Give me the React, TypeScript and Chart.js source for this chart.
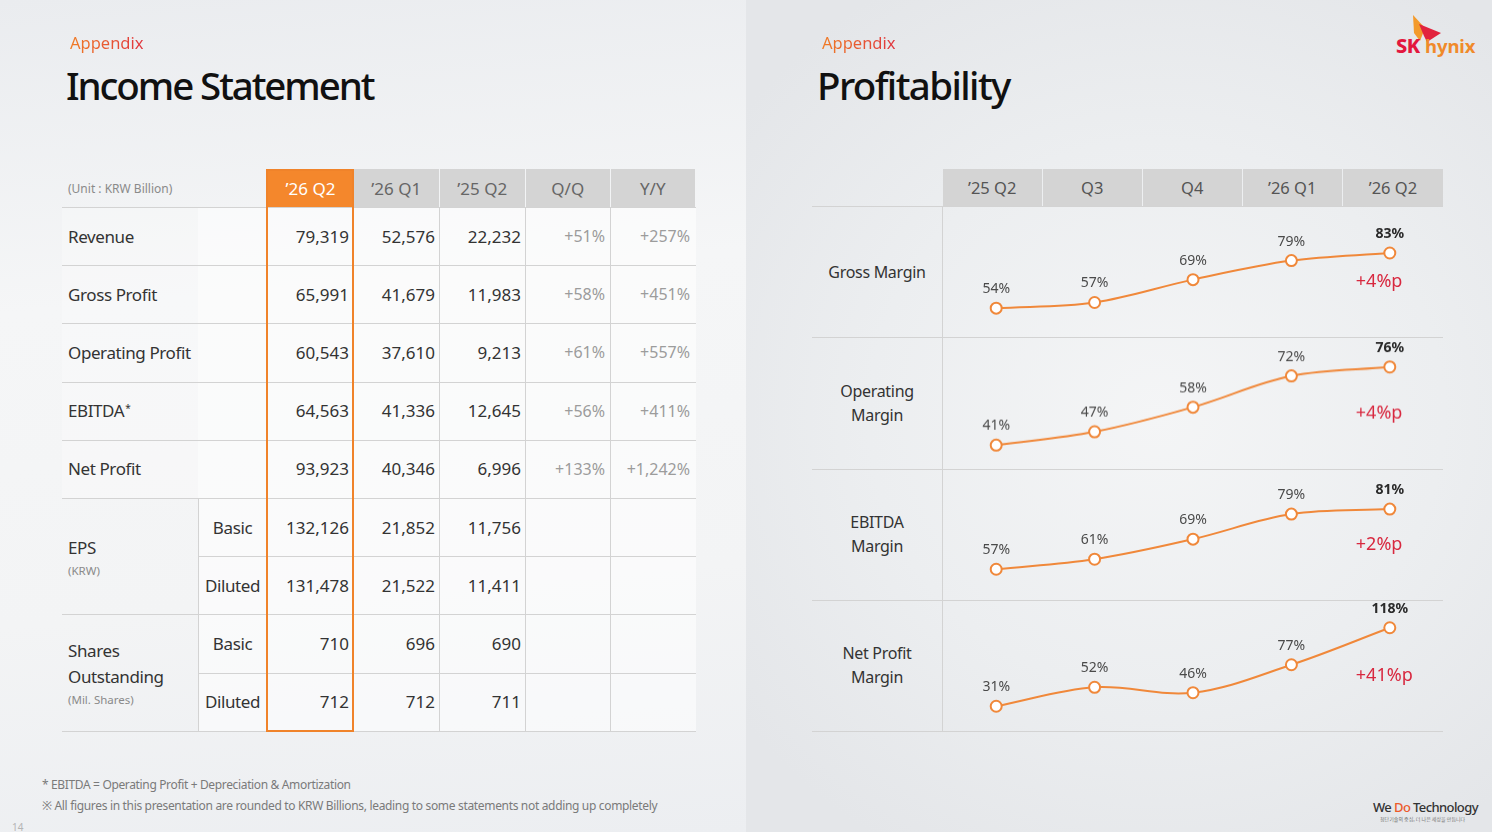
import React, { useEffect, useRef } from 'react';
import { Chart, registerables } from 'chart.js';

Chart.register(...registerables);

// ---- data ----
const tableHeaders = ['\u201926 Q2', '\u201926 Q1', '\u201925 Q2', 'Q/Q', 'Y/Y'];
const incomeItems = ['Revenue', 'Gross Profit', 'Operating Profit', 'EBITDA', 'Net Profit'];
const q2_26 = ['79,319', '65,991', '60,543', '64,563', '93,923'];
const q1_26 = ['52,576', '41,679', '37,610', '41,336', '40,346'];
const q2_25 = ['22,232', '11,983', '9,213', '12,645', '6,996'];
const qoq = ['+51%', '+58%', '+61%', '+56%', '+133%'];
const yoy = ['+257%', '+451%', '+557%', '+411%', '+1,242%'];
const subItems = ['Basic', 'Diluted'];
const epsValues = [
  ['132,126', '21,852', '11,756'],
  ['131,478', '21,522', '11,411'],
];
const shareValues = [
  ['710', '696', '690'],
  ['712', '712', '711'],
];

const quarters = ['\u201925 Q2', 'Q3', 'Q4', '\u201926 Q1', '\u201926 Q2'];
const grossMargin = [54, 57, 69, 79, 83];
const operatingMargin = [41, 47, 58, 72, 76];
const ebitdaMargin = [57, 61, 69, 79, 81];
const netProfitMargin = [31, 52, 46, 77, 118];

const FONT = '"Noto Sans", "Open Sans", sans-serif';
const ORANGE = '#f0883a';
const LINE = '#d3d3d3';

const marginRows = [
  { lines: ['Gross Margin'], values: grossMargin, min: 38.7, max: 107.7 },
  { lines: ['Operating', 'Margin'], values: operatingMargin, min: 30.2, max: 89.4 },
  { lines: ['EBITDA', 'Margin'], values: ebitdaMargin, min: 44.6, max: 97 },
  { lines: ['Net Profit', 'Margin'], values: netProfitMargin, min: 3.2, max: 148.8 },
];

const labelPlugin = {
  id: 'marginLabels',
  afterDatasetsDraw(chart: Chart) {
    const ctx = chart.ctx;
    const meta = chart.getDatasetMeta(0);
    const data = chart.data.datasets[0].data as number[];
    ctx.save();
    ctx.textAlign = 'center';
    ctx.textBaseline = 'middle';
    meta.data.forEach((pt: any, i: number) => {
      const last = i === data.length - 1;
      ctx.font = (last ? 'bold ' : '') + '14px ' + FONT;
      ctx.fillStyle = last ? '#2a2a2a' : '#4a4a4a';
      ctx.fillText(data[i] + '%', pt.x, pt.y - 19);
    });
    const lastPt: any = meta.data[data.length - 1];
    const diff = data[data.length - 1] - data[data.length - 2];
    ctx.font = '18px ' + FONT;
    ctx.fillStyle = '#d8283f';
    ctx.textAlign = 'left';
    ctx.fillText((diff >= 0 ? '+' : '') + diff + '%p', lastPt.x - 34, chart.chartArea.top + 76);
    ctx.restore();
  },
};

const MarginChart: React.FC<{ values: number[]; min: number; max: number }> = ({ values, min, max }) => {
  const canvasRef = useRef<HTMLCanvasElement>(null);

  useEffect(() => {
    if (!canvasRef.current) return;
    const chart = new Chart(canvasRef.current, {
      type: 'line',
      data: {
        labels: quarters,
        datasets: [{
          data: values,
          borderColor: ORANGE,
          borderWidth: 2,
          tension: 0.35,
          pointRadius: 5.5,
          pointBorderWidth: 2,
          pointBackgroundColor: '#ffffff',
          pointBorderColor: ORANGE,
          clip: false as any,
        }],
      },
      options: {
        responsive: true,
        maintainAspectRatio: false,
        animation: false,
        events: [],
        layout: { padding: 0, autoPadding: false },
        scales: {
          x: { type: 'category', offset: true, display: false },
          y: { display: false, min, max },
        },
        plugins: { legend: { display: false }, tooltip: { enabled: false } },
      },
      plugins: [labelPlugin],
    });
    return () => chart.destroy();
  }, [values, min, max]);

  return <canvas ref={canvasRef} />;
};

const abs = (left: number, top: number, width: number, height: number): React.CSSProperties => ({
  position: 'absolute', left, top, width, height, boxSizing: 'border-box',
});

const Cell: React.FC<{ x: number; y: number; w: number; h: number; align?: string; style?: React.CSSProperties; children?: React.ReactNode }> = ({ x, y, w, h, align = 'flex-end', style, children }) => (
  <div style={{ ...abs(x, y, w, h), display: 'flex', alignItems: 'center', justifyContent: align, ...style }}>{children}</div>
);

const Appendix: React.FC<{ x: number }> = ({ x }) => (
  <div style={{
    position: 'absolute', left: x, top: 32, fontSize: 16.5, fontFamily: FONT, lineHeight: '22px',
    background: 'linear-gradient(90deg, #f07c24, #e0353f)', WebkitBackgroundClip: 'text', backgroundClip: 'text', color: 'transparent',
  }}>Appendix</div>
);

const Title: React.FC<{ x: number; text: string; spacing: number }> = ({ x, text, spacing }) => (
  <div style={{ position: 'absolute', left: x, top: 60, fontSize: 38.5, fontFamily: FONT, fontWeight: 500, letterSpacing: spacing, color: '#111', lineHeight: '50px' }}>{text}</div>
);

const IncomeTable: React.FC = () => {
  const cols = [62, 198, 267, 354, 440, 526, 611, 696];
  const headTop = 169;
  const bodyTop = 207;
  const rh = 58.2;
  const valStyle: React.CSSProperties = { fontSize: 17, color: '#333', paddingRight: 5, fontFamily: FONT };
  const chgStyle: React.CSSProperties = { fontSize: 16, color: '#9c9c9c', paddingRight: 6, fontFamily: FONT };
  const lblStyle: React.CSSProperties = { fontSize: 17, color: '#333', fontFamily: FONT, letterSpacing: -0.4 };
  const els: React.ReactNode[] = [];

  // white-ish body
  els.push(<div key="bg" style={{ ...abs(198, bodyTop, 498, rh * 9), background: 'rgba(255,255,255,0.55)' }} />);
  els.push(<div key="bg2" style={{ ...abs(62, bodyTop, 136, rh * 5), background: 'rgba(255,255,255,0.25)' }} />);

  // header
  tableHeaders.forEach((hd, i) => {
    const first = i === 0;
    els.push(
      <Cell key={'h' + i} x={cols[i + 2]} y={headTop} w={cols[i + 3] - cols[i + 2] - (first ? 0 : 1.5)} h={38} align="center"
        style={{ background: first ? '#f4872c' : '#d4d4d4', color: first ? '#fff' : '#666', fontSize: 17, fontFamily: FONT }}>{hd}</Cell>
    );
  });
  els.push(<Cell key="unit" x={68} y={headTop} w={190} h={38} align="flex-start" style={{ fontSize: 12, color: '#8a8a8a', fontFamily: FONT }}>(Unit : KRW Billion)</Cell>);

  // horizontal lines
  for (let r = 0; r <= 9; r++) {
    const y = bodyTop + r * rh;
    const left = r === 6 || r === 8 ? 198 : 62;
    els.push(<div key={'hl' + r} style={{ ...abs(left, y, 696 - left, 1), background: LINE }} />);
  }
  // vertical lines
  [440, 526, 611].forEach((x) => {
    els.push(<div key={'vl' + x} style={{ ...abs(x - 1, bodyTop, 1, rh * 9), background: LINE }} />);
  });
  els.push(<div key="vl198" style={{ ...abs(198, bodyTop + rh * 5, 1, rh * 4), background: LINE }} />);
  els.push(<div key="vl354" style={{ ...abs(353, bodyTop, 1, rh * 9), background: LINE }} />);

  // income rows
  incomeItems.forEach((item, r) => {
    const y = bodyTop + r * rh;
    els.push(
      <Cell key={'l' + r} x={68} y={y} w={190} h={rh} align="flex-start" style={lblStyle}>
        {item}{item === 'EBITDA' ? <sup style={{ fontSize: 10, marginLeft: 1, position: 'relative', top: -3 }}>*</sup> : null}
      </Cell>
    );
    [q2_26[r], q1_26[r], q2_25[r]].forEach((v, c) => {
      els.push(<Cell key={'v' + r + c} x={cols[c + 2]} y={y} w={cols[c + 3] - cols[c + 2]} h={rh} style={valStyle}>{v}</Cell>);
    });
    els.push(<Cell key={'q' + r} x={cols[5]} y={y} w={cols[6] - cols[5]} h={rh} style={chgStyle}>{qoq[r]}</Cell>);
    els.push(<Cell key={'yy' + r} x={cols[6]} y={y} w={cols[7] - cols[6]} h={rh} style={chgStyle}>{yoy[r]}</Cell>);
  });

  // EPS and shares
  const groups = [
    { title: ['EPS'], unit: '(KRW)', values: epsValues },
    { title: ['Shares', 'Outstanding'], unit: '(Mil. Shares)', values: shareValues },
  ];
  groups.forEach((g, gi) => {
    const gy = bodyTop + (5 + gi * 2) * rh;
    els.push(
      <div key={'g' + gi} style={{ ...abs(68, gy, 128, rh * 2), display: 'flex', flexDirection: 'column', justifyContent: 'center', fontFamily: FONT, paddingTop: gi === 0 ? 4 : 2 }}>
        {g.title.map((t) => <div key={t} style={{ fontSize: 17, color: '#333', lineHeight: '26px', letterSpacing: -0.4 }}>{t}</div>)}
        <div style={{ fontSize: 11.5, color: '#8a8a8a', lineHeight: '20px' }}>{g.unit}</div>
      </div>
    );
    subItems.forEach((s, si) => {
      const y = gy + si * rh;
      els.push(<Cell key={'s' + gi + si} x={198} y={y} w={69} h={rh} align="center" style={lblStyle}>{s}</Cell>);
      g.values[si].forEach((v, c) => {
        els.push(<Cell key={'gv' + gi + si + c} x={cols[c + 2]} y={y} w={cols[c + 3] - cols[c + 2]} h={rh} style={valStyle}>{v}</Cell>);
      });
    });
  });

  // highlight box
  els.push(<div key="box" style={{ ...abs(266, headTop, 88, bodyTop + rh * 9 - headTop + 1), border: '2px solid #f0832a' }} />);

  return <>{els}</>;
};

const Profitability: React.FC = () => {
  const colX = [943, 1043, 1143, 1243, 1343, 1443];
  const headTop = 169;
  const bodyTop = 206;
  const rh = 131.25;
  const els: React.ReactNode[] = [];

  quarters.forEach((q, i) => {
    els.push(
      <Cell key={'h' + i} x={colX[i]} y={headTop} w={colX[i + 1] - colX[i] - (i < 4 ? 1.5 : 0)} h={37} align="center"
        style={{ background: '#d4d4d4', color: '#555', fontSize: 16.5, fontFamily: FONT }}>{q}</Cell>
    );
  });
  for (let r = 0; r <= 4; r++) {
    els.push(<div key={'hl' + r} style={{ ...abs(812, bodyTop + r * rh, 631, 1), background: LINE }} />);
  }
  els.push(<div key="vl" style={{ ...abs(942, bodyTop, 1, rh * 4), background: LINE }} />);

  marginRows.forEach((row, r) => {
    const y = bodyTop + r * rh;
    els.push(
      <div key={'rl' + r} style={{ ...abs(812, y, 130, rh), display: 'flex', flexDirection: 'column', alignItems: 'center', justifyContent: 'center', fontFamily: FONT, fontSize: 16, color: '#333', lineHeight: '24px', letterSpacing: -0.3 }}>
        {row.lines.map((t) => <div key={t}>{t}</div>)}
      </div>
    );
    els.push(
      <div key={'c' + r} style={abs(947, y, 492, rh)}>
        <MarginChart values={row.values} min={row.min} max={row.max} />
      </div>
    );
  });

  return <>{els}</>;
};

const Logo: React.FC = () => (
  <>
    <svg style={{ position: 'absolute', left: 1405, top: 12, overflow: 'visible' }} width={40} height={34}>
      <polygon points="8,3 20,16 15,29 9,21" fill="#f39a2b" />
      <polygon points="14,12 36,21 22,30 19,24" fill="#e2233d" />
    </svg>
    <div style={{ position: 'absolute', left: 1396, top: 32, fontFamily: FONT, fontWeight: 800, fontSize: 20, color: '#e3173e', letterSpacing: -0.5 }}>SK</div>
    <div style={{ position: 'absolute', left: 1425, top: 33, fontFamily: FONT, fontWeight: 700, fontSize: 18.5, color: '#f08a2a', letterSpacing: -0.1 }}>hynix</div>
  </>
);

export default function App() {
  return (
    <div style={{ position: 'absolute', left: 0, top: 0, width: 1492, height: 832, overflow: 'hidden', fontFamily: FONT }}>
      <div style={{ ...abs(0, 0, 746, 832), background: 'linear-gradient(175deg, #eaecef 0%, #f5f6f7 35%, #f3f4f5 70%, #eceef1 100%)' }} />
      <div style={{ ...abs(746, 0, 746, 832), background: 'radial-gradient(ellipse 70% 60% at 55% 50%, #f4f5f6 0%, #eceef0 55%, #e4e6e9 100%)' }} />

      <Appendix x={70} />
      <Title x={66} text="Income Statement" spacing={-2.1} />
      <Appendix x={822} />
      <Title x={817} text="Profitability" spacing={-1.6} />
      <Logo />

      <IncomeTable />
      <Profitability />

      <div style={{ position: 'absolute', left: 42, top: 776, fontSize: 12, color: '#7a7a7a', letterSpacing: -0.35 }}>* EBITDA = Operating Profit + Depreciation &amp; Amortization</div>
      <div style={{ position: 'absolute', left: 42, top: 797, fontSize: 12, color: '#7a7a7a', letterSpacing: -0.33 }}>※ All figures in this presentation are rounded to KRW Billions, leading to some statements not adding up completely</div>
      <div style={{ position: 'absolute', left: 12, top: 820, fontSize: 10, color: '#b5b5b5' }}>14</div>

      <div style={{ position: 'absolute', left: 1373, top: 798, fontSize: 13, color: '#333', letterSpacing: -0.6, fontWeight: 500 }}>
        We <span style={{ color: '#ec5a2a' }}>Do</span> Technology
      </div>
      <div style={{ position: 'absolute', left: 1380, top: 815, fontSize: 5, color: '#777', fontFamily: '"Noto Sans CJK KR", sans-serif' }}>첨단기술의 중심, 더 나은 세상을 만듭니다</div>
    </div>
  );
}
